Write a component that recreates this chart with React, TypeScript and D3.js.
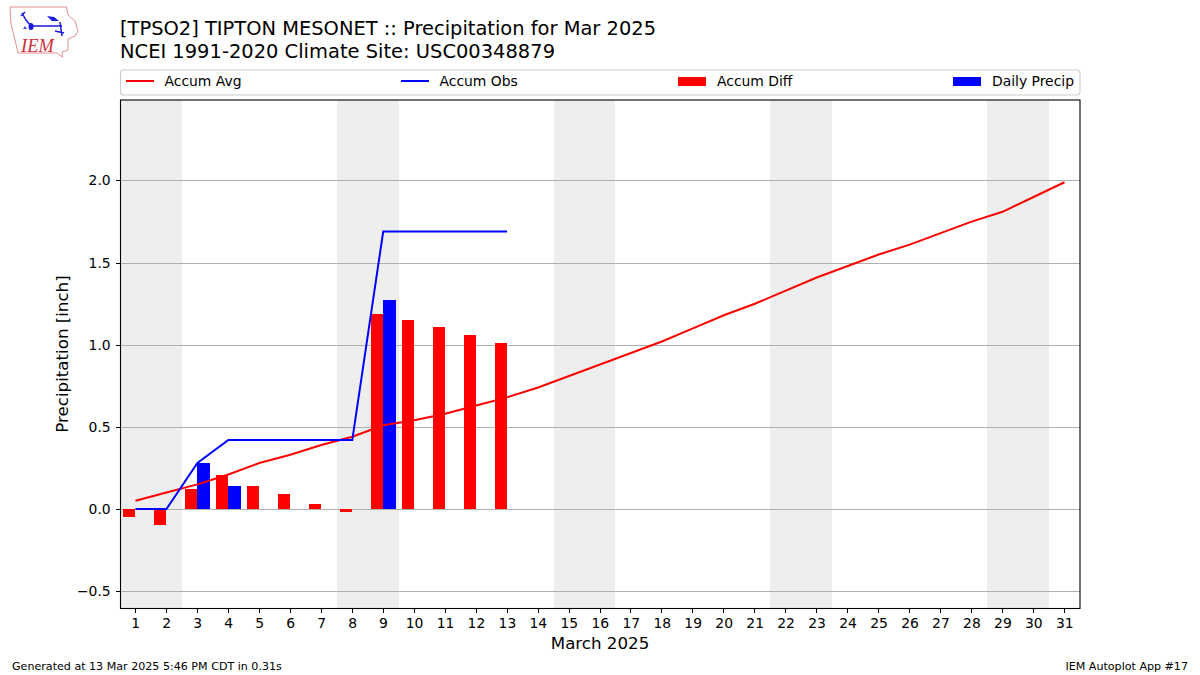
import React, { useRef, useEffect } from "react";
import * as d3 from "d3";

const WIDTH = 1200;
const HEIGHT = 675;

const days = d3.range(1, 32);
const accumAvg = [
	0.05, 0.1, 0.15, 0.21, 0.28, 0.33, 0.39, 0.44, 0.51, 0.54, 0.58, 0.63, 0.68,
	0.74, 0.81, 0.88, 0.95, 1.02, 1.1, 1.18, 1.25, 1.33, 1.41, 1.48, 1.55, 1.61,
	1.68, 1.75, 1.81, 1.9, 1.99,
];
const accumObs = [
	0, 0, 0.28, 0.42, 0.42, 0.42, 0.42, 0.42, 1.69, 1.69, 1.69, 1.69, 1.69,
];
const accumDiff = [
	-0.05, -0.1, 0.12, 0.21, 0.14, 0.09, 0.03, -0.02, 1.19, 1.15, 1.11, 1.06, 1.01,
];
const dailyPrecip = [0, 0, 0.28, 0.14, 0, 0, 0, 0, 1.27, 0, 0, 0, 0];
const weekends = [
	[1, 2],
	[8, 9],
	[15, 16],
	[22, 23],
	[29, 30],
];
const yTicks = [-0.5, 0, 0.5, 1, 1.5, 2];
const FONT = "'DejaVu Sans', sans-serif";

const App: React.FC = () => {
	const svgRef = useRef<SVGSVGElement | null>(null);

	useEffect(() => {
		if (!svgRef.current) return;
		const svg = d3.select(svgRef.current);
		svg.selectAll("*").remove();

		const margin = { top: 100, right: 120, bottom: 66.5, left: 120 };
		const x = d3
			.scaleLinear()
			.domain([0.5, 31.5])
			.range([margin.left, WIDTH - margin.right]);
		const y = d3
			.scaleLinear()
			.domain([-0.6041, 2.4927])
			.range([HEIGHT - margin.bottom, margin.top]);
		const barW = x(1.4) - x(1);
		// grid and ticks land on whole pixel rows, like the original renderer
		const snapY = (v: number) => Math.floor(y(v)) + 0.5;

		// Weekend bands
		svg
			.append("g")
			.attr("shape-rendering", "crispEdges")
			.selectAll("rect")
			.data(weekends)
			.join("rect")
			.attr("x", (d) => x(d[0] - 0.5))
			.attr("y", margin.top)
			.attr("width", (d) => x(d[1] + 0.5) - x(d[0] - 0.5))
			.attr("height", y.range()[0] - margin.top)
			.attr("fill", "#eeeeee");

		// Grid
		svg
			.append("g")
			.attr("shape-rendering", "crispEdges")
			.selectAll("line")
			.data(yTicks)
			.join("line")
			.attr("x1", margin.left)
			.attr("x2", WIDTH - margin.right)
			.attr("y1", (d) => snapY(d))
			.attr("y2", (d) => snapY(d))
			.attr("stroke", "#b0b0b0")
			.attr("stroke-width", 1);

		const marks = svg.append("g").attr("transform", "translate(0,-0.3)");

		// Bars
		marks
			.append("g")
			.attr("shape-rendering", "crispEdges")
			.selectAll("rect")
			.data(accumDiff)
			.join("rect")
			.attr("x", (_, i) => x(days[i]) - barW)
			.attr("y", (d) => y(Math.max(d, 0)))
			.attr("width", barW)
			.attr("height", (d) => Math.abs(y(d) - y(0)))
			.attr("fill", "#ff0000");
		marks
			.append("g")
			.attr("shape-rendering", "crispEdges")
			.selectAll("rect")
			.data(dailyPrecip)
			.join("rect")
			.attr("x", (_, i) => x(days[i]))
			.attr("y", (d) => y(d))
			.attr("width", barW)
			.attr("height", (d) => y(0) - y(d))
			.attr("fill", "#0000ff");

		// Lines
		const line = d3
			.line<number>()
			.x((_, i) => x(days[i]))
			.y((d) => y(d));
		marks
			.append("path")
			.attr("d", line(accumAvg))
			.attr("fill", "none")
			.attr("stroke", "#ff0000")
			.attr("stroke-width", 2);
		marks
			.append("path")
			.attr("d", line(accumObs))
			.attr("fill", "none")
			.attr("stroke", "#0000ff")
			.attr("stroke-width", 2);

		// Axes
		const xAxis = svg
			.append("g")
			.attr("transform", `translate(0,${y.range()[0]})`)
			.call(
				d3
					.axisBottom(x)
					.tickValues(days)
					.tickFormat((d) => String(d))
					.tickSize(4.9)
					.tickPadding(4.9)
					.offset(0)
			);
		xAxis.selectAll("text").attr("dx", 0.3);
		const yAxis = svg
			.append("g")
			.attr("transform", `translate(${margin.left + 0.5},0)`)
			.call(
				d3
					.axisLeft(y)
					.tickValues(yTicks)
					.tickFormat((d) => d3.format(".1f")(d as number).replace("-", "\u2212"))
					.tickSize(4.9)
					.tickPadding(4.9)
					.offset(0)
			);
		yAxis
			.selectAll<SVGGElement, number>(".tick")
			.attr("transform", (d) => `translate(0,${snapY(d)})`);
		[xAxis, yAxis].forEach((a) => {
			a.attr("font-family", FONT).attr("font-size", 13.9);
			a.selectAll("text").attr("fill", "#000");
			a.selectAll("line")
				.attr("stroke", "#000")
				.attr("stroke-width", 1)
				.attr("shape-rendering", "crispEdges");
			a.select(".domain").remove();
		});

		// Frame
		svg
			.append("rect")
			.attr("x", 120.5)
			.attr("y", margin.top)
			.attr("width", 959.5)
			.attr("height", y.range()[0] - margin.top)
			.attr("fill", "none")
			.attr("stroke", "#000")
			.attr("stroke-width", 1.1);

		const addText = (
			label: string,
			tx: number,
			ty: number,
			size: number,
			anchor = "start"
		) =>
			svg
				.append("text")
				.attr("x", tx)
				.attr("y", ty)
				.attr("font-family", FONT)
				.attr("font-size", size)
				.attr("text-anchor", anchor)
				.attr("fill", "#000")
				.text(label);

		// Titles
		addText("[TPSO2] TIPTON MESONET :: Precipitation for Mar 2025", 120, 35, 19.44).attr(
			"textLength",
			536
		);
		addText("NCEI 1991-2020 Climate Site: USC00348879", 120, 57.5, 19.44).attr(
			"textLength",
			435
		);

		// Axis labels
		addText("March 2025", 600, 649, 16.67, "middle");
		addText("Precipitation [inch]", 0, 0, 16.67, "middle").attr(
			"transform",
			"translate(68,354) rotate(-90)"
		);

		// Footer
		addText("Generated at 13 Mar 2025 5:46 PM CDT in 0.31s", 12, 670, 11.1);
		addText("IEM Autoplot App #17", 1188, 670, 11.1, "end");

		// Legend
		svg
			.append("rect")
			.attr("x", 120.5)
			.attr("y", 70)
			.attr("width", 959.5)
			.attr("height", 25)
			.attr("rx", 3)
			.attr("fill", "#fff")
			.attr("stroke", "#cccccc")
			.attr("stroke-width", 1.1);
		const legendLines = [
			{ label: "Accum Avg", x0: 126, color: "#ff0000" },
			{ label: "Accum Obs", x0: 401, color: "#0000ff" },
		];
		legendLines.forEach((d) => {
			svg
				.append("line")
				.attr("x1", d.x0)
				.attr("x2", d.x0 + 28)
				.attr("y1", 81)
				.attr("y2", 81)
				.attr("stroke", d.color)
				.attr("stroke-width", 2);
			addText(d.label, d.x0 + 38.5, 86, 13.9);
		});
		const legendPatches = [
			{ label: "Accum Diff", x0: 678, color: "#ff0000" },
			{ label: "Daily Precip", x0: 953, color: "#0000ff" },
		];
		legendPatches.forEach((d) => {
			svg
				.append("rect")
				.attr("x", d.x0)
				.attr("y", 77)
				.attr("width", 28)
				.attr("height", 9)
				.attr("fill", d.color);
			addText(d.label, d.x0 + 39, 86, 13.9);
		});

		// IEM logo
		const logo = svg.append("g");
		logo
			.append("path")
			.attr(
				"d",
				"M10,7 L66.5,7 L68,15 L75,21 L78,31 L75,36 L68,39 L68,50 L62,52 L62.5,57 L57,53 L18,53 L15,40 L11,24 Z"
			)
			.attr("fill", "#fff")
			.attr("stroke", "#e59090")
			.attr("stroke-width", 1);
		logo
			.append("path")
			.attr("d", "M31,26 L62,26 M60,22 L62,36 M55,31 L64,33 M22,13 L26,20 L31,26 M21,16 L25,12")
			.attr("fill", "none")
			.attr("stroke", "#1a1ae0")
			.attr("stroke-width", 1.5);
		logo
			.append("path")
			.attr("d", "M47,16 L54,17 L59,21 L52,21 Z")
			.attr("fill", "#1a1ae0");
		logo
			.append("ellipse")
			.attr("cx", 31)
			.attr("cy", 26.5)
			.attr("rx", 2.5)
			.attr("ry", 3.5)
			.attr("fill", "#1a1ae0");
		logo
			.append("path")
			.attr("d", "M23,29 L25,26 L27,29 Z")
			.attr("fill", "#4a4ae0");
		logo
			.append("text")
			.attr("x", 21)
			.attr("y", 51.5)
			.attr("font-family", "'Liberation Serif', serif")
			.attr("font-style", "italic")
			.attr("font-size", 18.5)
			.attr("fill", "#d03038")
			.text("IEM");
	}, []);

	return (
		<svg
			ref={svgRef}
			width={WIDTH}
			height={HEIGHT}
			style={{ position: "absolute", left: 0, top: 0, background: "#fff" }}
		/>
	);
};

export default App;
